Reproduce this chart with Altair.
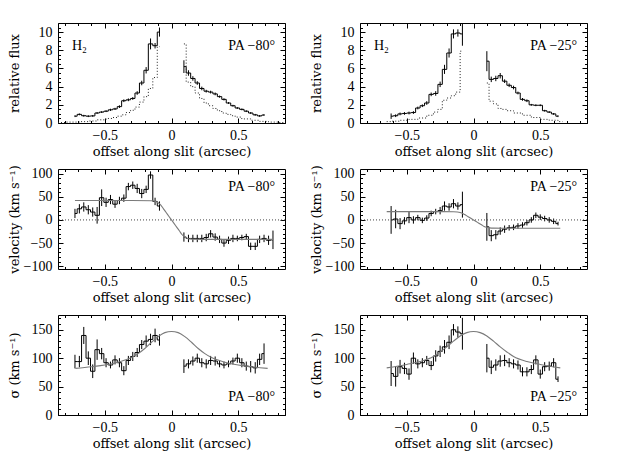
import altair as alt
import pandas as pd

FONT = "Liberation Serif"
TFONT = "DejaVu Serif"
W, H = 227, 100

# ---------------- bin centres (arcsec) ----------------
x80_left = [-0.723, -0.690, -0.657, -0.623, -0.590, -0.557, -0.523, -0.490, -0.457, -0.423,
            -0.390, -0.357, -0.323, -0.290, -0.257, -0.223, -0.190, -0.157, -0.123, -0.090]
x80_right = [0.093, 0.127, 0.160, 0.193, 0.227, 0.260, 0.293, 0.327, 0.360, 0.393, 0.427,
             0.460, 0.493, 0.527, 0.560, 0.593, 0.627, 0.660, 0.693, 0.727, 0.760]
x25_left = [-0.617, -0.583, -0.550, -0.517, -0.483, -0.450, -0.417, -0.383, -0.350, -0.317,
            -0.283, -0.250, -0.217, -0.183, -0.150, -0.117, -0.083]
x25_right = [0.100, 0.133, 0.167, 0.200, 0.233, 0.267, 0.300, 0.333, 0.367, 0.400, 0.433,
             0.467, 0.500, 0.533, 0.567, 0.600, 0.633]

# ---------------- relative flux ----------------
flux80_left = [0.75, 0.95, 0.8, 0.75, 0.78, 1.1, 1.2, 1.3, 1.45, 1.55, 1.8, 2.45, 2.55, 2.7,
               3.3, 4.4, 5.8, 8.7, 8.5, 10.0]
flux80_left_err = [0.1, 0.1, 0.1, 0.1, 0.1, 0.1, 0.1, 0.1, 0.12, 0.12, 0.15, 0.15, 0.15, 0.15,
                   0.2, 0.25, 0.35, 0.6, 0.3, 0.5]
flux80_right = [6.2, 5.5, 4.9, 4.4, 3.8, 3.5, 3.4, 3.2, 2.9, 2.6, 2.2, 1.9, 1.65, 1.5, 1.3,
                1.1, 0.9, 0.78, 0.88]
flux80_right_err = [0.7, 0.3, 0.25, 0.2, 0.2, 0.15, 0.15, 0.15, 0.12, 0.12, 0.1, 0.1, 0.1, 0.1,
                    0.1, 0.1, 0.1, 0.1, 0.1]
psf80_left_x = [-0.85, -0.723, -0.657, -0.590, -0.523, -0.457, -0.423, -0.390, -0.357, -0.323,
                -0.290, -0.257, -0.223, -0.190, -0.157, -0.123, -0.090]
psf80_left_y = [0.05, 0.1, 0.15, 0.22, 0.35, 0.5, 0.6, 0.75, 0.9, 1.15, 1.4, 1.75, 2.3, 2.9,
                3.8, 5.0, 8.4]
psf80_right_x = [0.093, 0.127, 0.160, 0.193, 0.227, 0.260, 0.293, 0.327, 0.360, 0.393, 0.427,
                 0.460, 0.493, 0.560, 0.627, 0.693, 0.760, 0.85]
psf80_right_y = [8.7, 4.5, 4.0, 3.3, 2.7, 2.2, 1.9, 1.6, 1.35, 1.1, 0.95, 0.8, 0.65, 0.45, 0.3,
                 0.18, 0.1, 0.05]

flux25_left = [0.75, 0.8, 1.0, 1.05, 1.1, 1.15, 1.65, 1.9, 2.2, 3.15, 3.25, 4.25, 5.9, 7.7,
               9.8, 9.9, 9.8]
flux25_left_err = [0.3, 0.15, 0.15, 0.15, 0.15, 0.15, 0.15, 0.15, 0.2, 0.2, 0.25, 0.3, 0.5,
                   0.5, 0.5, 0.4, 1.3]
flux25_right = [6.8, 4.8, 4.9, 5.2, 4.6, 4.15, 3.9, 3.3, 2.6, 2.45, 2.0, 1.95, 1.95, 1.35, 1.2,
                1.0, 0.75]
flux25_right_err = [1.1, 0.3, 0.3, 0.3, 0.2, 0.2, 0.2, 0.15, 0.15, 0.15, 0.1, 0.1, 0.1, 0.1,
                    0.1, 0.1, 0.1]
psf25_left_x = [-0.65, -0.583, -0.517, -0.450, -0.383, -0.317, -0.283, -0.250, -0.217, -0.183,
                -0.150, -0.117, -0.083]
psf25_left_y = [0.15, 0.2, 0.3, 0.4, 0.55, 0.85, 1.2, 1.5, 2.5, 2.75, 3.0, 3.4, 7.9]
psf25_right_x = [0.100, 0.133, 0.167, 0.200, 0.233, 0.267, 0.333, 0.400, 0.467, 0.533, 0.600,
                 0.667]
psf25_right_y = [4.4, 2.4, 2.1, 1.6, 1.5, 1.35, 1.1, 0.85, 0.6, 0.4, 0.3, 0.15]

# ---------------- velocity (km/s) ----------------
vel80_left = [14, 24, 28, 22, 17, 10, 48, 38, 44, 34, 42, 47, 72, 75, 68, 57, 66, 97, 40, 30]
vel80_left_err = [10, 10, 10, 10, 10, 18, 18, 10, 10, 8, 8, 8, 8, 8, 10, 10, 8, 8, 8, 10]
vel80_right = [-37, -40, -40, -40, -40, -38, -30, -37, -42, -50, -44, -40, -40, -38, -36, -57,
               -57, -42, -40, -44, -43]
vel80_right_err = [10, 8, 8, 8, 8, 8, 8, 8, 8, 8, 8, 8, 6, 6, 6, 8, 8, 8, 8, 10, 20]
velmod80_x = [-0.723, -0.3, -0.15, -0.12, -0.1, -0.08, -0.06, -0.04, -0.02, 0.0, 0.02, 0.04,
              0.06, 0.08, 0.1, 0.12, 0.15, 0.3, 0.76]
velmod80_y = [42, 42, 41.5, 40, 37, 32, 24, 16, 8, 0, -8, -16, -24, -32, -37, -40, -41.5, -42,
              -42]

vel25_left = [0, 2, -8, -2, 5, 0, 5, -1, 4, 14, 18, 20, 30, 28, 35, 30, 33]
vel25_left_err = [30, 20, 12, 8, 12, 8, 6, 6, 6, 6, 6, 8, 10, 8, 10, 8, 28]
vel25_right = [-15, -34, -32, -24, -20, -17, -16, -13, -11, -6, 0, 10, 6, 3, 0, -3, -8]
vel25_right_err = [30, 12, 10, 8, 8, 6, 6, 6, 6, 6, 6, 6, 6, 6, 6, 6, 4]
velmod25_x = [-0.65, -0.3, -0.15, -0.12, -0.1, -0.08, -0.06, -0.04, -0.02, 0.0, 0.02, 0.04,
              0.06, 0.08, 0.1, 0.12, 0.15, 0.3, 0.65]
velmod25_y = [18, 18, 17.8, 17.2, 16, 14, 10.5, 7, 3.5, 0, -3.5, -7, -10.5, -14, -16, -17.2,
              -17.8, -18, -18]
zero_line = [0]

# ---------------- dispersion (km/s) ----------------
sig80_left = [94, 94, 140, 100, 77, 115, 108, 92, 88, 97, 92, 78, 96, 103, 110, 124, 130, 133,
              140, 132]
sig80_left_err = [12, 10, 15, 12, 12, 18, 10, 8, 6, 8, 8, 8, 8, 8, 8, 8, 10, 10, 12, 10]
sig80_right = [86, 90, 95, 100, 92, 90, 96, 95, 90, 88, 90, 95, 100, 92, 86, 85, 83, 98, 108]
sig80_right_err = [12, 8, 8, 8, 8, 8, 8, 8, 6, 6, 6, 6, 8, 8, 8, 10, 10, 10, 18]
sigmod80_x = [-0.72, -0.6, -0.5, -0.4, -0.3, -0.25, -0.2, -0.15, -0.1, -0.05, 0.0, 0.05, 0.1,
              0.15, 0.2, 0.25, 0.3, 0.4, 0.5, 0.6, 0.72]
sigmod80_y = [82, 85, 88, 93, 101, 108, 117, 128, 138, 145, 147, 145, 138, 128, 117, 108, 101,
              93, 88, 85, 82]

sig25_left = [73, 68, 85, 82, 72, 100, 90, 92, 96, 87, 104, 112, 120, 128, 150, 146, 143]
sig25_left_err = [22, 18, 12, 10, 10, 10, 8, 8, 8, 8, 10, 10, 12, 12, 10, 10, 28]
sig25_right = [100, 84, 88, 95, 96, 92, 90, 88, 76, 76, 80, 97, 72, 85, 86, 92, 63]
sig25_right_err = [25, 12, 10, 10, 10, 8, 8, 8, 8, 8, 8, 8, 8, 8, 8, 8, 5]
sigmod25_x = [-0.65, -0.5, -0.4, -0.3, -0.25, -0.2, -0.15, -0.1, -0.05, 0.0, 0.05, 0.1, 0.15,
              0.2, 0.25, 0.3, 0.4, 0.5, 0.65]
sigmod25_y = [83, 89, 94, 103, 111, 120, 130, 139, 145, 147, 145, 139, 130, 120, 111, 103, 94,
              89, 83]

# ---------------- axes ----------------
XDOM = [-0.85, 0.85]
XMAJ = [-0.5, 0.0, 0.5]
XMIN = [round(-0.8 + 0.1 * i, 2) for i in range(17)]
FLUX_DOM, FLUX_MAJ, FLUX_MIN = [0, 11], [0, 2, 4, 6, 8, 10], [0.5 * i for i in range(23)]
VEL_DOM, VEL_MAJ, VEL_MIN = [-106, 110], [-100, -50, 0, 50, 100], list(range(-100, 101, 10))
SIG_DOM, SIG_MAJ, SIG_MIN = [0, 176], [0, 50, 100, 150], list(range(0, 171, 10))

LBL = dict(labelFont=FONT, labelFontSize=14, labelColor="black",
           titleFont=TFONT, titleFontSize=13, titleFontWeight="normal", titleColor="black")


def obs_frame(xl, yl, el, xr, yr, er):
    rows = []
    for side, xs, ys, es in (("left", xl, yl, el), ("right", xr, yr, er)):
        for x, y, e in zip(xs, ys, es):
            rows.append({"x": x, "y": y, "lo": y - e, "hi": y + e, "side": side})
    return pd.DataFrame(rows)


def curve_frame(*parts):
    rows = []
    for i, (xs, ys) in enumerate(parts):
        for x, y in zip(xs, ys):
            rows.append({"x": x, "y": y, "side": str(i)})
    return pd.DataFrame(rows)


def panel(obs, ydom, ymaj, ymin, ytitle, dotted=None, model=None, zero=False, texts=()):
    xs = alt.Scale(domain=XDOM, nice=False, zero=False)
    ys = alt.Scale(domain=ydom, nice=False, zero=False)
    xa = alt.Axis(orient="bottom", values=XMAJ, format="~r", ticks=False, domain=False,
                  grid=False, labelPadding=5, title="offset along slit (arcsec)",
                  titleX=W / 2, titleY=28, titleBaseline="middle", **LBL)
    ya = alt.Axis(orient="left", values=ymaj, format="~r", ticks=False, domain=False,
                  grid=False, labelPadding=6, title=ytitle, titleX=-44, titleY=H / 2,
                  titleBaseline="middle", **LBL)
    layers = [
        alt.Chart(obs).mark_line(interpolate="step", color="black", strokeWidth=1, clip=True)
        .encode(x=alt.X("x:Q", scale=xs, axis=xa), y=alt.Y("y:Q", scale=ys, axis=ya),
                detail="side:N"),
        alt.Chart(obs).mark_rule(color="black", strokeWidth=1, clip=True)
        .encode(x=alt.X("x:Q", scale=xs, axis=None), y=alt.Y("lo:Q", scale=ys, axis=None),
                y2="hi:Q"),
    ]
    if dotted is not None:
        layers.append(
            alt.Chart(dotted).mark_line(interpolate="step", color="#222222", strokeWidth=1,
                                        strokeDash=[1, 2], clip=True)
            .encode(x=alt.X("x:Q", scale=xs, axis=None), y=alt.Y("y:Q", scale=ys, axis=None),
                    detail="side:N"))
    if zero:
        layers.append(
            alt.Chart(pd.DataFrame({"y": zero_line})).mark_rule(color="#444444", strokeWidth=1,
                                                                strokeDash=[1, 2])
            .encode(y=alt.Y("y:Q", scale=ys, axis=None)))
    if model is not None:
        layers.append(
            alt.Chart(model).mark_line(interpolate="monotone", color="#7a7a7a", strokeWidth=1.1,
                                       clip=True)
            .encode(x=alt.X("x:Q", scale=xs, axis=None), y=alt.Y("y:Q", scale=ys, axis=None)))
    for xo, yo, size, xv, yv in (("bottom", "left", 5, XMAJ, ymaj),
                                 ("top", "right", 5, XMAJ, ymaj),
                                 ("bottom", "left", 2.5, XMIN, ymin),
                                 ("top", "right", 2.5, XMIN, ymin)):
        layers.append(
            alt.Chart(obs).mark_point(opacity=0)
            .encode(
                x=alt.X("x:Q", scale=xs,
                        axis=alt.Axis(orient=xo, values=xv, tickSize=size, offset=-size,
                                      labels=False, domain=False, grid=False, title=None,
                                      tickColor="black", tickWidth=1)),
                y=alt.Y("y:Q", scale=ys,
                        axis=alt.Axis(orient=yo, values=yv, tickSize=size, offset=-size,
                                      labels=False, domain=False, grid=False, title=None,
                                      tickColor="black", tickWidth=1))))
    for txt, px, py, align in texts:
        layers.append(
            alt.Chart(pd.DataFrame({"t": [txt]})).mark_text(
                font=FONT, fontSize=14, color="black", align=align, baseline="middle")
            .encode(text="t:N", x=alt.value(px), y=alt.value(py)))
    return (alt.layer(*layers).properties(width=W, height=H)
            .resolve_axis(x="independent", y="independent"))


p_flux80 = panel(obs_frame(x80_left, flux80_left, flux80_left_err,
                           x80_right[:19], flux80_right, flux80_right_err),
                 FLUX_DOM, FLUX_MAJ, FLUX_MIN, "relative flux",
                 dotted=curve_frame((psf80_left_x, psf80_left_y), (psf80_right_x, psf80_right_y)),
                 texts=[("H₂", 14, 23, "left"), ("PA −80°", W - 10, 23, "right")])
p_flux25 = panel(obs_frame(x25_left, flux25_left, flux25_left_err,
                           x25_right, flux25_right, flux25_right_err),
                 FLUX_DOM, FLUX_MAJ, FLUX_MIN, "relative flux",
                 dotted=curve_frame((psf25_left_x, psf25_left_y), (psf25_right_x, psf25_right_y)),
                 texts=[("H₂", 14, 23, "left"), ("PA −25°", W - 10, 23, "right")])
p_vel80 = panel(obs_frame(x80_left, vel80_left, vel80_left_err,
                          x80_right, vel80_right, vel80_right_err),
                VEL_DOM, VEL_MAJ, VEL_MIN, "velocity (km s⁻¹)", zero=True,
                model=curve_frame((velmod80_x, velmod80_y)),
                texts=[("PA −80°", W - 10, 18, "right")])
p_vel25 = panel(obs_frame(x25_left, vel25_left, vel25_left_err,
                          x25_right, vel25_right, vel25_right_err),
                VEL_DOM, VEL_MAJ, VEL_MIN, "velocity (km s⁻¹)", zero=True,
                model=curve_frame((velmod25_x, velmod25_y)),
                texts=[("PA −25°", W - 10, 18, "right")])
p_sig80 = panel(obs_frame(x80_left, sig80_left, sig80_left_err,
                          x80_right[:19], sig80_right, sig80_right_err),
                SIG_DOM, SIG_MAJ, SIG_MIN, "σ (km s⁻¹)",
                model=curve_frame((sigmod80_x, sigmod80_y)),
                texts=[("PA −80°", W - 10, H - 18, "right")])
p_sig25 = panel(obs_frame(x25_left, sig25_left, sig25_left_err,
                          x25_right, sig25_right, sig25_right_err),
                SIG_DOM, SIG_MAJ, SIG_MIN, "σ (km s⁻¹)",
                model=curve_frame((sigmod25_x, sigmod25_y)),
                texts=[("PA −25°", W - 10, H - 18, "right")])

chart = (
    alt.concat(p_flux80, p_flux25, p_vel80, p_vel25, p_sig80, p_sig25, columns=2,
               spacing={"row": 46, "column": 75}, bounds="flush",
               padding={"left": -1, "top": 14, "right": 5, "bottom": 5},
               background="white")
    .configure_view(stroke="black", strokeWidth=1)
    .configure_axis(labelFont=FONT, titleFont=TFONT, labelFontSize=14, titleFontSize=13,
                    titleFontWeight="normal", labelColor="black", titleColor="black")
)

chart.save("out.html", embed_options={"renderer": "svg", "actions": False})
